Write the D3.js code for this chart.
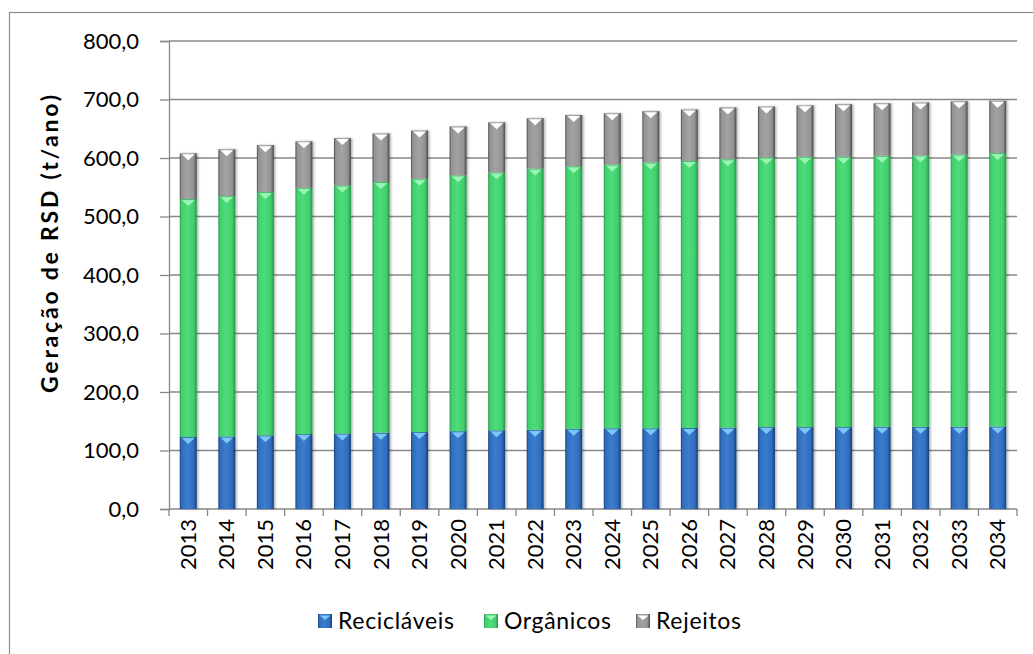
<!DOCTYPE html>
<html>
<head>
<meta charset="utf-8">
<script src="https://cdn.jsdelivr.net/npm/d3@7"></script>
<style>
  body { margin: 0; background: #fff; }
  text { font-family: Lato, "Open Sans", sans-serif; fill: #000; }
</style>
</head>
<body>
<div id="chart"></div>
<script>
// data
const years = ["2013","2014","2015","2016","2017","2018","2019","2020","2021","2022","2023",
  "2024","2025","2026","2027","2028","2029","2030","2031","2032","2033","2034"];
const reciclaveis = [123,124,126,128,129,130.5,131.5,133,134.5,135.5,137,138,138,138.5,139,140,140,140,140.5,140.5,140.5,141];
const organicos = [407,411,416,421,424,428.5,433,437.5,441,446.5,449,451,454.5,456.5,459,461,462,462,463.5,464,465.5,467.5];
const rejeitos = [78,80,80,79.5,81,83,82.5,83.5,85.5,86,87.5,87.5,87.5,88,88.5,87,88,90,89.5,90.5,91,89.5];
const seriesNames = ["Recicláveis", "Orgânicos", "Rejeitos"];
const yTicks = [0, 100, 200, 300, 400, 500, 600, 700, 800];

const width = 1033, height = 654;

// colours for each series: edge, body, light, triangle
const pal = {
  "Recicláveis": { dark: "#163e70", body: "#2f6cbf", light: "#3d7ccc", tri: "#79c8f7" },
  "Orgânicos":   { dark: "#25944a", body: "#41cf6c", light: "#4fdc7a", tri: "#9af5b6" },
  "Rejeitos":    { dark: "#4a4a4a", body: "#939393", light: "#a3a3a3", tri: "#ffffff" }
};

const table = years.map((y, i) => ({
  year: y, "Recicláveis": reciclaveis[i], "Orgânicos": organicos[i], "Rejeitos": rejeitos[i]
}));
const stacked = d3.stack().keys(seriesNames)(table);

const svg = d3.select("#chart").append("svg")
  .attr("width", width)
  .attr("height", height);

// gradients for the bevelled bars
const defs = svg.append("defs");
seriesNames.forEach((name, k) => {
  const c = pal[name];
  const g = defs.append("linearGradient").attr("id", "grad" + k)
    .attr("x1", 0).attr("x2", 1).attr("y1", 0).attr("y2", 0);
  g.append("stop").attr("offset", "0%").attr("stop-color", c.dark);
  g.append("stop").attr("offset", "10%").attr("stop-color", c.body);
  g.append("stop").attr("offset", "45%").attr("stop-color", c.light);
  g.append("stop").attr("offset", "82%").attr("stop-color", c.body);
  g.append("stop").attr("offset", "100%").attr("stop-color", c.dark);
});
const sh = defs.append("filter").attr("id", "shadow")
  .attr("x", "-30%").attr("y", "-10%").attr("width", "160%").attr("height", "120%");
sh.append("feDropShadow").attr("dx", 1.5).attr("dy", 0).attr("stdDeviation", 1.2)
  .attr("flood-color", "#000").attr("flood-opacity", 0.3);

// outer frame (right and bottom edges fall outside the picture)
svg.append("rect")
  .attr("x", 9.5).attr("y", 12.5)
  .attr("width", 1040).attr("height", 660)
  .attr("fill", "none").attr("stroke", "#8c8c8c").attr("stroke-width", 1.2);

const x = d3.scaleBand().domain(years).range([169, 1017])
  .paddingInner(0.56).paddingOuter(0.28);
const y = d3.scaleLinear().domain([0, 800]).range([509, 41]);

// gridlines
svg.append("g").selectAll("line").data(yTicks.slice(1)).join("line")
  .attr("x1", 169).attr("x2", 1017)
  .attr("y1", d => y(d)).attr("y2", d => y(d))
  .attr("stroke", "#878787").attr("stroke-width", 1.3);

// y axis
const yAxis = svg.append("g").attr("transform", "translate(169,0)")
  .call(d3.axisLeft(y).tickValues(yTicks).tickSize(9).tickPadding(21)
    .tickFormat(d => d3.format(".1f")(d).replace(".", ",")));
yAxis.select(".domain").attr("stroke", "#878787").attr("stroke-width", 1.3);
yAxis.selectAll(".tick line").attr("stroke", "#878787").attr("stroke-width", 1.3);
yAxis.selectAll("text").style("font-size", "22px").attr("fill", "#000");

// x axis with ticks between categories
const xAxis = svg.append("g").attr("transform", "translate(0,509)");
xAxis.append("line").attr("x1", 169).attr("x2", 1017)
  .attr("stroke", "#878787").attr("stroke-width", 1.3);
const step = x.step();
xAxis.selectAll(".xt").data(d3.range(years.length + 1)).join("line")
  .attr("x1", i => 169 + i * step).attr("x2", i => 169 + i * step)
  .attr("y1", 0).attr("y2", 7)
  .attr("stroke", "#878787").attr("stroke-width", 1.3);
xAxis.selectAll("text").data(years).join("text")
  .attr("transform", d => `translate(${x(d) + x.bandwidth() / 2 + 7.5},10) rotate(-90)`)
  .attr("text-anchor", "end")
  .style("font-size", "22px")
  .text(d => d);

// bars
const layers = svg.append("g").selectAll("g").data(stacked).join("g");
layers.each(function(layer, k) {
  const g = d3.select(this);
  const c = pal[layer.key];
  g.selectAll("rect").data(layer).join("rect")
    .attr("x", d => x(d.data.year))
    .attr("y", d => y(d[1]))
    .attr("width", x.bandwidth())
    .attr("height", d => y(d[0]) - y(d[1]))
    .attr("fill", `url(#grad${k})`)
    .attr("filter", "url(#shadow)");
  // light triangle on top of each segment
  g.selectAll("polygon").data(layer).join("polygon")
    .attr("points", d => {
      const x0 = x(d.data.year) + 2, x1 = x(d.data.year) + x.bandwidth() - 2, t = y(d[1]) + 1;
      return `${x0},${t} ${x1},${t} ${(x0 + x1) / 2},${t + 6}`;
    })
    .attr("fill", c.tri);
});

// legend
const legendX = [318, 484, 636];
const legendW = [116, 107, 85];
const legend = svg.append("g").selectAll("g").data(seriesNames).join("g")
  .attr("transform", (d, i) => `translate(${legendX[i]},614)`);
legend.append("rect")
  .attr("width", 14).attr("height", 14)
  .attr("fill", (d, i) => `url(#grad${i})`);
legend.append("polygon")
  .attr("points", "1.5,1.5 12.5,1.5 7,6")
  .attr("fill", d => pal[d].tri);
legend.append("text")
  .attr("x", 20).attr("y", 7).attr("dy", "0.36em")
  .style("font-size", "23px")
  .attr("textLength", (d, i) => legendW[i])
  .attr("lengthAdjust", "spacing")
  .text(d => d);

// y axis title
svg.append("text")
  .attr("transform", "translate(58,244) rotate(-90)")
  .attr("text-anchor", "middle")
  .style("font-size", "23px").style("font-weight", "bold")
  .attr("textLength", 298)
  .attr("lengthAdjust", "spacing")
  .text("Geração de RSD (t/ano)");
</script>
</body>
</html>
